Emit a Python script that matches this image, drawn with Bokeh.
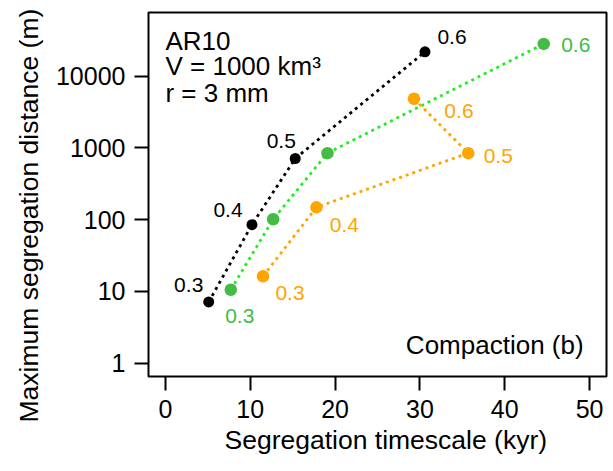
from bokeh.plotting import figure
from bokeh.models import ColumnDataSource, FixedTicker, Label, Range1d, Title
from bokeh.core.properties import value
from bokeh.embed import file_html
from bokeh.resources import INLINE

# ---- data ----
porosity_labels = ["0.3", "0.4", "0.5", "0.6"]
black_time = [5.1, 10.2, 15.3, 30.6]
black_dist = [7.1, 85, 710, 21800]
green_time = [7.7, 12.7, 19.1, 44.6]
green_dist = [10.5, 101, 844, 28100]
orange_time = [11.5, 17.8, 35.7, 29.3]
orange_dist = [16.2, 148, 844, 4840]

x_ticks = [0, 10, 20, 30, 40, 50]
y_ticks = [1, 10, 100, 1000, 10000]
y_tick_labels = ["1", "10", "100", "1000", "10000"]

x_title = "Segregation timescale (kyr)"
y_title = "Maximum segregation distance (m)"

# label offsets (pixels) for the porosity annotations
black_dx = [-20, -24, -14, 27]
black_dy = [-17, -15, -18, -15]
green_dx = [9, 0, 0, 32]
green_dy = [26, 0, 0, 1]
green_show = ["0.3", "", "", "0.6"]
orange_dx = [27, 28, 30, 45]
orange_dy = [17, 18, 3, 12]

FONT = "Liberation Sans"

p = figure(width=613, height=471, y_axis_type="log",
           x_range=Range1d(-2, 52), y_range=Range1d(10 ** -0.188, 10 ** 4.887),
           output_backend="svg", toolbar_location=None,
           min_border_left=148, min_border_right=7, min_border_top=12,
           min_border_bottom=95)
p.background_fill_color = "white"
p.border_fill_color = "white"
p.outline_line_color = "black"
p.outline_line_width = 2
p.xgrid.visible = False
p.ygrid.visible = False

for ax in (p.xaxis[0], p.yaxis[0]):
    ax.axis_line_color = None
    ax.major_tick_in = 0
    ax.major_tick_out = 14
    ax.major_tick_line_width = 2
    ax.minor_tick_line_color = None
    ax.major_label_text_font = FONT
    ax.major_label_text_font_size = "25px"
    ax.major_label_text_color = "black"

p.xaxis.ticker = FixedTicker(ticks=x_ticks)
p.yaxis.ticker = FixedTicker(ticks=y_ticks)
p.yaxis.major_label_overrides = {t: l for t, l in zip(y_ticks, y_tick_labels)}
p.xaxis.major_label_standoff = 9
p.yaxis.major_label_standoff = 9

# axis titles as side titles, so that they can be shifted along the axis
p.add_layout(Title(text=x_title, align="left", offset=76, vertical_align="top",
                   text_font=FONT, text_font_size="26.5px", text_font_style="normal",
                   text_color="black", standoff=8), "below")
p.add_layout(Title(text=y_title, align="left", offset=-46, vertical_align="bottom",
                   text_font=FONT, text_font_size="26.5px", text_font_style="normal",
                   text_color="black", standoff=17), "left")

series = [
    (black_time, black_dist, "black", "black", 11, black_dx, black_dy, porosity_labels),
    (green_time, green_dist, "#22EE22", "#44BB44", 12.5, green_dx, green_dy, green_show),
    (orange_time, orange_dist, "#FFA500", "#FFA500", 12.5, orange_dx, orange_dy, porosity_labels),
]

for xs, ys, lcol, pcol, size, dx, dy, labs in series:
    src = ColumnDataSource(dict(x=xs, y=ys))
    p.line("x", "y", source=src, line_color=lcol, line_width=2.8, line_dash="3 4")
for xs, ys, lcol, pcol, size, dx, dy, labs in series:
    src = ColumnDataSource(dict(x=xs, y=ys, lab=labs, dx=dx, dy=dy))
    p.scatter("x", "y", source=src, size=size, fill_color=pcol, line_color=None)
    p.text("x", "y", text="lab", source=src, x_offset="dx", y_offset="dy",
           text_align="center", text_baseline="middle",
           text_font=value(FONT), text_font_size="21px", text_color=pcol)

info_lines = ["AR10", "V = 1000 km\u00b3", "r = 3 mm"]
info_y = [31300, 13700, 5800]
for txt, yy in zip(info_lines, info_y):
    p.add_layout(Label(x=0, y=yy, text=txt, text_font=FONT, text_font_size="26px",
                       text_align="left", text_baseline="alphabetic",
                       text_color="black"))

p.add_layout(Label(x=49.3, y=1.78, text="Compaction (b)", text_font=FONT,
                   text_font_size="26px", text_align="right",
                   text_baseline="alphabetic", text_color="black"))

open("out.html", "w").write(file_html(p, INLINE))
